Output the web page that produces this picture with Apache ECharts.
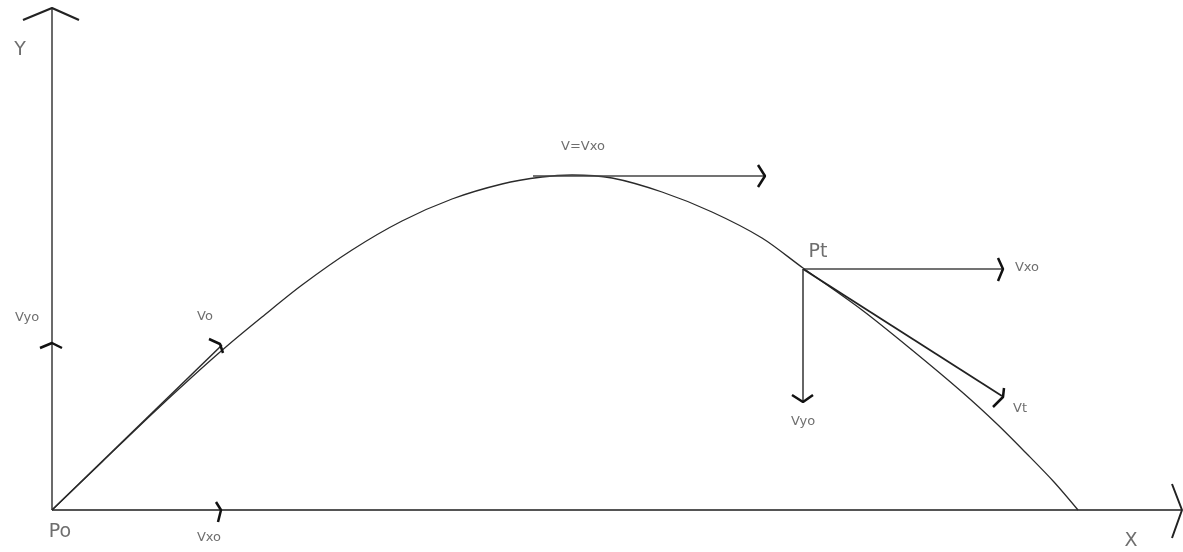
<!DOCTYPE html>
<html>
<head>
<meta charset="utf-8">
<script src="https://cdn.jsdelivr.net/npm/echarts@6/dist/echarts.min.js"></script>
<style>
  html, body { margin: 0; padding: 0; background: #fff; }
  #chart { width: 1183px; height: 552px; }
</style>
</head>
<body>
<div id="chart"></div>
<script>
// units: 1 unit = 1px, origin at Po
const trajectory = [
  [0, 0], [50, 48], [100, 96], [140, 133], [175, 164], [210, 193], [250, 225],
  [300, 260], [350, 289], [400, 311], [450, 326], [490, 333], [520, 335],
  [560, 332], [610, 318], [660, 298], [710, 272], [751, 242], [810, 200],
  [860, 160], [910, 118], [945, 86], [975, 56], [1002, 28], [1026, 0]
]
const yAxisLine = [[0, 0], [0, 502]]
const xAxisLine = [[0, 0], [1130, 0]]
const voLine = [[0, 0], [170, 165]]
const topLine = [[481, 334], [713, 334]]
const ptHorizontal = [[751, 241], [951, 241]]
const ptVertical = [[751, 241], [751, 109]]
const vtLine = [[751, 241], [950, 114]]

// arrow heads / brackets
const yArrowHead = [[-29, 490], [0, 502], [27, 490]]
const xArrowHead = [[1120, 26], [1130, 0], [1120, -28]]
const vyoTick = [[-12, 162], [0, 167], [10, 162]]
const vxoTick = [[164, 8], [169, 0], [166, -12]]
const voHead = [[157, 171], [168, 166], [171, 157]]
const topHead = [[706, 345], [713, 334], [706, 323]]
const ptHHead = [[946, 252], [951, 241], [946, 229]]
const ptVHead = [[740, 115], [751, 108], [761, 115]]
const vtHead = [[952, 122], [951, 113], [941, 103]]

const bigLabels = [
  [-32, 460, 'Y'], [1079, -31, 'X'], [8, -22, 'Po'], [766, 258, 'Pt']
]
const smallLabels = [
  [157, -28, 'Vxo'], [-25, 192, 'Vyo'], [153, 193, 'Vo'], [531, 363, 'V=Vxo'],
  [975, 242, 'Vxo'], [751, 88, 'Vyo'], [968, 101, 'Vt']
]

function seg(data, color, width) {
  return {
    type: 'line',
    data,
    showSymbol: false,
    clip: false,
    silent: true,
    lineStyle: { color, width },
    z: 2
  }
}

function labelSeries(data, size) {
  return {
    type: 'scatter',
    data,
    symbolSize: 0,
    clip: false,
    silent: true,
    label: {
      show: true,
      position: 'inside',
      formatter: p => p.data[2],
      color: '#4a4a4a',
      fontSize: size,
      fontFamily: 'DejaVu Sans'
    }
  }
}

const chart = echarts.init(document.getElementById('chart'), null, { renderer: 'canvas' })
chart.setOption({
  animation: false,
  backgroundColor: '#ffffff',
  grid: { left: 0, right: 0, top: 0, bottom: 0 },
  xAxis: { type: 'value', min: -52, max: 1131, show: false },
  yAxis: { type: 'value', min: -42, max: 510, show: false },
  series: [
    seg(yAxisLine, '#3a3a3a', 1.5),
    seg(xAxisLine, '#555555', 2),
    Object.assign(seg(trajectory, '#2a2a2a', 1.3), { smooth: 0.3 }),
    seg(voLine, '#2a2a2a', 1.5),
    seg(topLine, '#444444', 1.6),
    seg(ptHorizontal, '#444444', 1.6),
    seg(ptVertical, '#333333', 1.5),
    seg(vtLine, '#222222', 1.8),
    seg(yArrowHead, '#222222', 2.2),
    seg(xArrowHead, '#222222', 2),
    seg(vyoTick, '#111111', 2.5),
    seg(vxoTick, '#111111', 2.5),
    seg(voHead, '#111111', 2.5),
    seg(topHead, '#111111', 2.5),
    seg(ptHHead, '#111111', 2.5),
    seg(ptVHead, '#111111', 2.5),
    seg(vtHead, '#111111', 2.5),
    labelSeries(bigLabels, 19),
    labelSeries(smallLabels, 13)
  ]
})
</script>
</body>
</html>
